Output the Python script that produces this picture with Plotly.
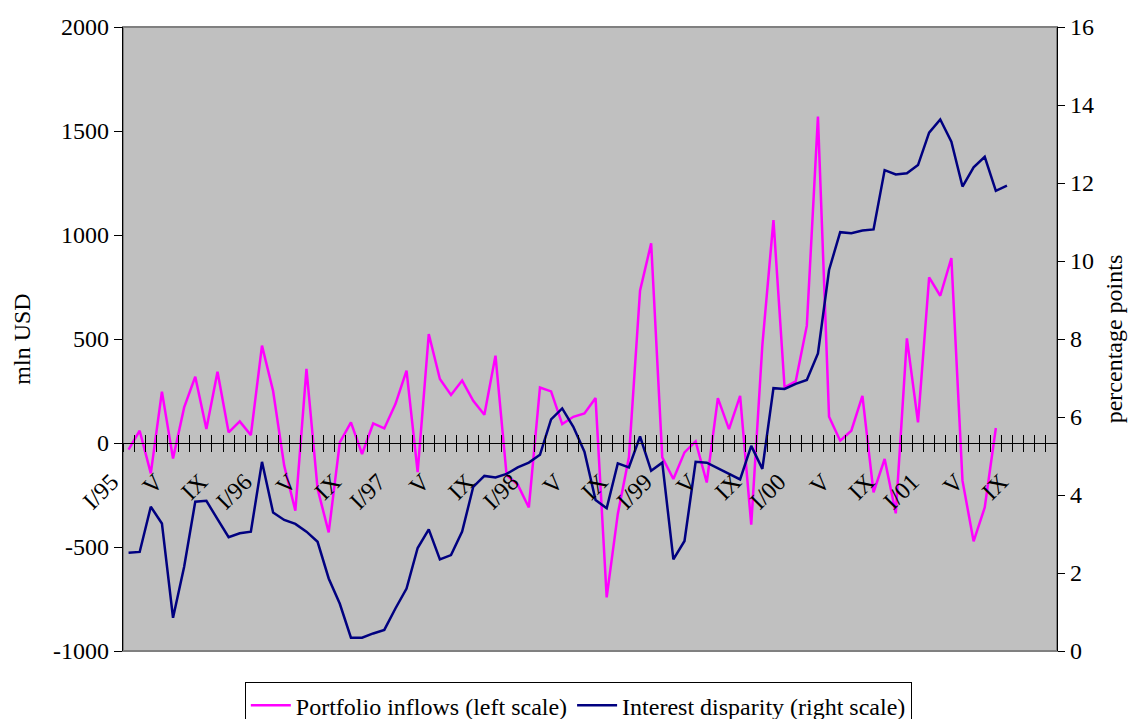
import plotly.graph_objects as go

# Monthly observations, January 1995 onwards (84 monthly slots on the category axis)
n_months = 84
month_index = list(range(n_months))

# Tick labels every four months
label_positions = list(range(0, 84, 4))
label_text = ["I/95", "V", "IX", "I/96", "V", "IX", "I/97", "V", "IX",
              "I/98", "V", "IX", "I/99", "V", "IX", "I/00", "V", "IX",
              "I/01", "V", "IX"]

# Left-scale ticks (plain hyphen minus sign)
left_ticks = [-1000, -500, 0, 500, 1000, 1500, 2000]
left_tick_text = ["-1000", "-500", "0", "500", "1000", "1500", "2000"]

# Portfolio inflows, mln USD (left scale)
portfolio_inflows = [
    -32, 59, -146, 247, -75, 171, 319, 67, 343, 51,
    104, 38, 468, 250, -110, -325, 356, -220, -430, 3,
    99, -53, 94, 70, 187, 348, -140, 524, 308, 231,
    300, 203, 136, 420, -155, -200, -310, 267, 248, 91,
    126, 142, 216, -742, -341, -69, 732, 960, -69, -173,
    -45, 8, -190, 216, 67, 227, -393, 470, 1072, 267,
    296, 564, 1569, 126, 11, 59, 227, -237, -77, -338,
    503, 99, 796, 708, 889, -181, -473, -310, 72,
]

# Interest disparity, percentage points (right scale)
interest_disparity = [
    2.52, 2.54, 3.70, 3.27, 0.85, 2.16, 3.83, 3.85, 3.38, 2.92,
    3.02, 3.06, 4.85, 3.55, 3.36, 3.26, 3.06, 2.80, 1.86, 1.21,
    0.34, 0.34, 0.45, 0.54, 1.09, 1.60, 2.64, 3.12, 2.35, 2.46,
    3.06, 4.21, 4.49, 4.45, 4.54, 4.71, 4.83, 5.03, 5.94, 6.22,
    5.75, 5.11, 3.87, 3.66, 4.81, 4.71, 5.50, 4.62, 4.83, 2.35,
    2.82, 4.85, 4.83, 4.68, 4.54, 4.40, 5.26, 4.67, 6.74, 6.72,
    6.85, 6.95, 7.63, 9.77, 10.74, 10.71, 10.78, 10.81, 12.33, 12.22,
    12.25, 12.46, 13.29, 13.63, 13.06, 11.91, 12.40, 12.67, 11.80, 11.93,
]

FONT = "Liberation Serif"
FS = 24
x_range = [-0.5, n_months - 0.5]
boundaries = [i - 0.5 for i in range(n_months + 1)]
zero_pos = 1000 / 3000  # height of 0 on the left scale within the plot

fig = go.Figure()
fig.add_trace(go.Scatter(
    x=month_index[:len(portfolio_inflows)], y=portfolio_inflows,
    mode="lines", name="Portfolio inflows (left scale)",
    line=dict(color="#FF00FF", width=2.5),
    xaxis="x", yaxis="y",
))
fig.add_trace(go.Scatter(
    x=month_index[:len(interest_disparity)], y=interest_disparity,
    mode="lines", name="Interest disparity (right scale)",
    line=dict(color="#000080", width=2.5),
    xaxis="x2", yaxis="y2",
))

fig.update_layout(
    width=1136, height=719,
    margin=dict(l=123, r=79, t=27, b=68, autoexpand=False),
    paper_bgcolor="white",
    plot_bgcolor="#C0C0C0",
    font=dict(family=FONT, size=FS, color="black"),
    showlegend=True,
    legend=dict(
        orientation="h", x=0.4875, xanchor="center", y=-0.05, yanchor="top",
        bordercolor="black", borderwidth=1, bgcolor="white",
        font=dict(family=FONT, size=FS), itemwidth=40,
        tracegroupgap=0,
    ),
    xaxis=dict(
        range=x_range, anchor="free", position=zero_pos,
        showline=True, linecolor="black", linewidth=1.3,
        showgrid=False, zeroline=False,
        tickmode="array", tickvals=label_positions, ticktext=label_text,
        ticks="", tickangle=-45, ticklabelshift=-17, ticklabelstandoff=14,
        tickfont=dict(family=FONT, size=FS),
        minor=dict(tickmode="array", tickvals=boundaries, ticks="outside",
                   ticklen=8, tickwidth=1, tickcolor="black", showgrid=False),
    ),
    xaxis2=dict(
        range=x_range, overlaying="x", anchor="free", position=zero_pos,
        showline=False, showgrid=False, zeroline=False,
        tickmode="array", tickvals=boundaries, ticks="inside",
        ticklen=8, tickwidth=1, tickcolor="black", showticklabels=False,
    ),
    yaxis=dict(
        range=[-1000, 2000], tickmode="array", tickvals=left_ticks,
        ticktext=left_tick_text, showgrid=False, zeroline=False,
        showline=True, linecolor="black", linewidth=1.3,
        ticks="outside", ticklen=8, tickwidth=1, tickcolor="black",
        anchor="x", side="left",
        title=dict(text="mln USD", standoff=15, font=dict(family=FONT, size=FS)),
        tickfont=dict(family=FONT, size=FS),
    ),
    yaxis2=dict(
        range=[0, 16], tickmode="linear", tick0=0, dtick=2,
        overlaying="y", side="right", anchor="x",
        showgrid=False, zeroline=False,
        showline=True, linecolor="black", linewidth=1.3,
        ticks="outside", ticklen=7, tickwidth=1, tickcolor="black",
        title=dict(text="percentage points", standoff=12, font=dict(family=FONT, size=FS)),
        tickfont=dict(family=FONT, size=FS),
    ),
    yaxis3=dict(
        range=[-1000, 2000], tickmode="array", tickvals=left_ticks,
        overlaying="y", side="left", anchor="x",
        showgrid=False, zeroline=False, showline=False,
        ticks="inside", ticklen=8, tickwidth=1, tickcolor="black",
        showticklabels=False,
    ),
    yaxis4=dict(
        range=[0, 16], tickmode="linear", tick0=0, dtick=2,
        overlaying="y", side="right", anchor="x",
        showgrid=False, zeroline=False, showline=False,
        ticks="inside", ticklen=7, tickwidth=1, tickcolor="black",
        showticklabels=False,
    ),
)

# Grey frame around the plotting area
fig.add_shape(type="rect", xref="x domain", yref="y domain",
              x0=0, x1=1, y0=0, y1=1, line=dict(color="#808080", width=2),
              layer="below")

fig.write_html("out.html")
